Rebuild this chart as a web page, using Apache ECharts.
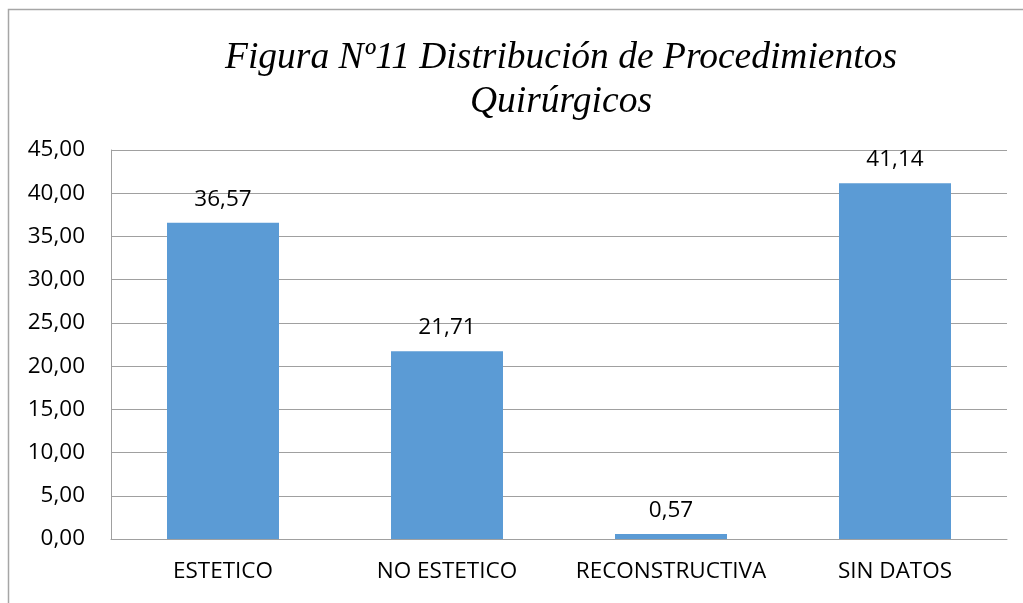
<!DOCTYPE html>
<html>
<head>
<meta charset="utf-8">
<script src="https://cdn.jsdelivr.net/npm/echarts@6/dist/echarts.min.js"></script>
<style>
    html, body { margin: 0; padding: 0; background: #fff; }
    #main { width: 1023px; height: 603px; }
</style>
</head>
<body>
<div id="main"></div>
<script>
// datos de la figura
var categories = ["ESTETICO", "NO ESTETICO", "RECONSTRUCTIVA", "SIN DATOS"];
var values = [36.57, 21.71, 0.57, 41.14];
var titleLines = ["Figura Nº11 Distribución de Procedimientos", "Quirúrgicos"];

function fmt(v) {
    return Number(v).toFixed(2).replace(".", ",");
}

var chart = echarts.init(document.getElementById("main"));
chart.setOption({
    animation: false,
    title: {
        text: titleLines.join("\n"),
        left: 556,
        top: 31,
        textAlign: "center",
        textStyle: {
            fontFamily: "Liberation Serif",
            fontStyle: "italic",
            fontWeight: "normal",
            fontSize: 37.5,
            lineHeight: 44,
            color: "#000"
        }
    },
    graphic: [
        {
            type: "rect",
            shape: { x: 8.5, y: 9.5, width: 1100, height: 700 },
            style: { fill: "none", stroke: "#a6a6a6", lineWidth: 1.5 },
            silent: true
        }
    ],
    grid: {
        left: 111,
        right: 16,
        top: 150,
        bottom: 64,
        containLabel: false
    },
    xAxis: {
        type: "category",
        data: categories,
        axisTick: { show: false },
        axisLine: { lineStyle: { color: "#a0a0a0", width: 1 } },
        axisLabel: {
            color: "#000",
            fontFamily: "Open Sans",
            fontSize: 22.5,
            margin: 21,
            interval: 0
        }
    },
    yAxis: {
        type: "value",
        min: 0,
        max: 45,
        interval: 5,
        axisLine: { show: true, lineStyle: { color: "#a0a0a0", width: 1 } },
        axisTick: { show: false },
        splitLine: { lineStyle: { color: "#a0a0a0", width: 1 } },
        axisLabel: {
            color: "#000",
            fontFamily: "Open Sans",
            fontSize: 22.5,
            margin: 26,
            formatter: fmt
        }
    },
    series: [
        {
            type: "bar",
            data: values,
            barWidth: "50%",
            itemStyle: { color: "#5b9bd5" },
            label: {
                show: true,
                position: "top",
                distance: 12,
                color: "#000",
                fontFamily: "Open Sans",
                fontSize: 22.5,
                formatter: function (p) { return fmt(p.value); }
            }
        }
    ]
});
</script>
</body>
</html>
